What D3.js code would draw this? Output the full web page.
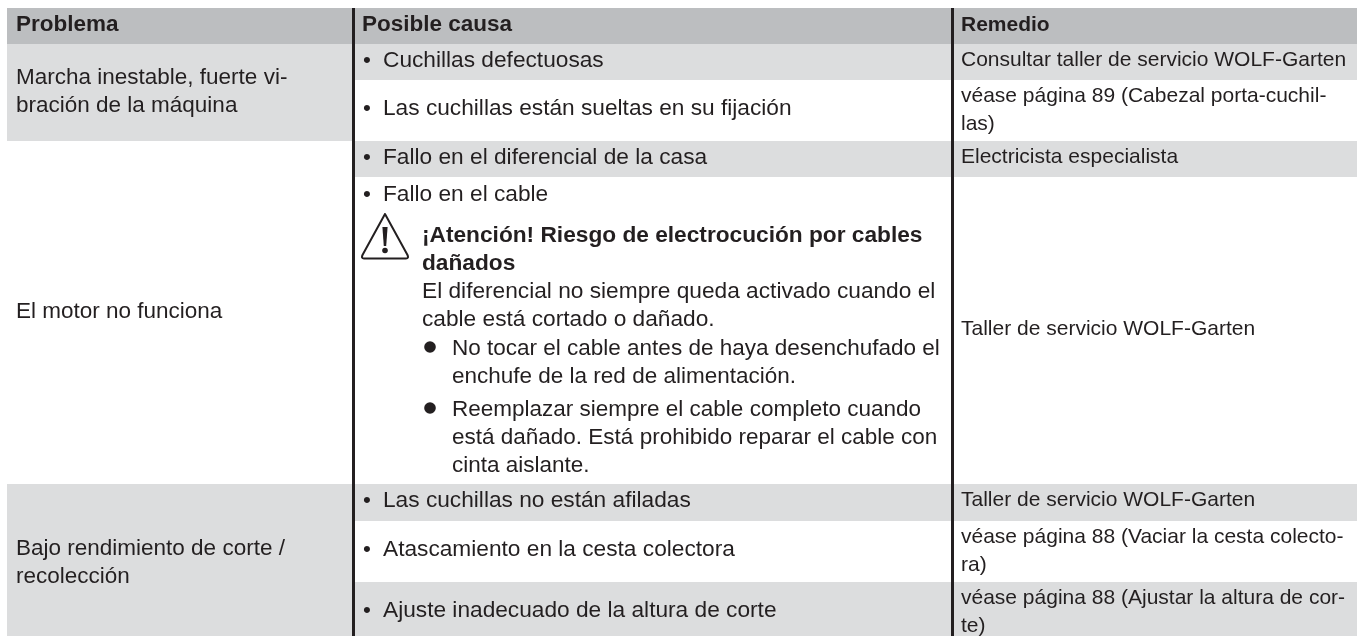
<!DOCTYPE html>
<html>
<head>
<meta charset="utf-8">
<script src="https://cdn.jsdelivr.net/npm/d3@7"></script>
<style>
  html, body { margin: 0; padding: 0; background: #fff; overflow: hidden; }
  text { font-family: "Liberation Sans", Arial, sans-serif; font-size: 22.5px; fill: #231f20; }
  .head { font-weight: bold; }
  .small { font-size: 21px; }
  .mid { font-size: 22.7px; }
</style>
</head>
<body>
<div id="datavis"></div>
<script>
// table content
const headers = ["Problema", "Posible causa", "Remedio"]
const problems = [
  ["Marcha inestable, fuerte vi-", "bración de la máquina"],
  ["El motor no funciona"],
  ["Bajo rendimiento de corte /", "recolección"]
]
const causes = [
  "Cuchillas defectuosas",
  "Las cuchillas están sueltas en su fijación",
  "Fallo en el diferencial de la casa",
  "Fallo en el cable",
  "Las cuchillas no están afiladas",
  "Atascamiento en la cesta colectora",
  "Ajuste inadecuado de la altura de corte"
]
const remedies = [
  ["Consultar taller de servicio WOLF-Garten"],
  ["véase página 89 (Cabezal porta-cuchil-", "las)"],
  ["Electricista especialista"],
  ["Taller de servicio WOLF-Garten"],
  ["Taller de servicio WOLF-Garten"],
  ["véase página 88 (Vaciar la cesta colecto-", "ra)"],
  ["véase página 88 (Ajustar la altura de cor-", "te)"]
]
const warningTitle = ["¡Atención! Riesgo de electrocución por cables", "dañados"]
const warningText = ["El diferencial no siempre queda activado cuando el", "cable está cortado o dañado."]
const warningSteps = [
  ["No tocar el cable antes de haya desenchufado el", "enchufe de la red de alimentación."],
  ["Reemplazar siempre el cable completo cuando", "está dañado. Está prohibido reparar el cable con", "cinta aislante."]
]
const rowHeights = [36, 61, 36, 307, 37, 61, 54]
const colWidths = [346, 599, 405]
const problemRanges = [[0, 2], [2, 4], [4, 7]]

const W = 1357, H = 636
const grey = "#dcddde", headGrey = "#bcbec0", ink = "#231f20"

const svg = d3.select("#datavis").append("svg")
  .attr("width", W).attr("height", H)
  .style("display", "block")

const rowEdges = [0, ...d3.cumsum(rowHeights)]
const colEdges = [0, ...d3.cumsum(colWidths)]
const y = d3.scaleLinear().domain([0, d3.sum(rowHeights)]).range([44, 44 + d3.sum(rowHeights)])
const x = d3.scaleLinear().domain([0, d3.sum(colWidths)]).range([7, 7 + d3.sum(colWidths)])

// header band
svg.append("rect").attr("x", x(0)).attr("y", 8)
  .attr("width", W - x(0)).attr("height", y(0) - 8).attr("fill", headGrey)

// problem column shading: first and last group
svg.append("g").selectAll("rect")
  .data(problemRanges.filter((d, i) => i !== 1))
  .enter().append("rect")
    .attr("x", x(colEdges[0]))
    .attr("y", d => y(rowEdges[d[0]]))
    .attr("width", x(colEdges[1]) - x(colEdges[0]))
    .attr("height", d => y(rowEdges[d[1]]) - y(rowEdges[d[0]]))
    .attr("fill", grey)

// cause + remedy shading, striped rows
svg.append("g").selectAll("rect")
  .data(d3.range(rowHeights.length).filter(i => i % 2 === 0))
  .enter().append("rect")
    .attr("x", x(colEdges[1]))
    .attr("y", i => y(rowEdges[i]))
    .attr("width", W - x(colEdges[1]))
    .attr("height", i => y(rowEdges[i + 1]) - y(rowEdges[i]))
    .attr("fill", grey)

// column rules
svg.append("g").selectAll("rect")
  .data([1, 2])
  .enter().append("rect")
    .attr("x", c => x(colEdges[c]) - 1)
    .attr("y", 8)
    .attr("width", 3)
    .attr("height", H - 8)
    .attr("fill", ink)

function lines(g, arr, px, py, lh, cls) {
  arr.forEach((t, i) => {
    g.append("text").attr("x", px).attr("y", py + i * lh).attr("class", cls || null).text(t)
  })
}

const g = svg.append("g").style("filter", "blur(0.3px)")

// headers
headers.forEach((h, i) => {
  g.append("text").attr("class", i === 2 ? "head small" : "head")
    .attr("x", x(colEdges[i]) + 9).attr("y", 30.5).text(h)
})

// problems, centred in their span
problems.forEach((p, i) => {
  const mid = (y(rowEdges[problemRanges[i][0]]) + y(rowEdges[problemRanges[i][1]])) / 2
  lines(g, p, x(0) + 9, mid + (i === 2 ? 8.5 : 5) - (p.length - 1) * 14, 28)
})

// causes
const causeX = x(colEdges[1]) + 7
causes.forEach((c, i) => {
  const top = y(rowEdges[i])
  const base = rowHeights[i] < 40 ? top + 22.5 : (i === 3 ? top + 23.5 : top + 35)
  g.append("text").attr("x", causeX + 3).attr("y", base).text("•")
  g.append("text").attr("class", "mid").attr("x", causeX + 23).attr("y", base).text(c)
})

// remedies
remedies.forEach((r, i) => {
  const mid = (y(rowEdges[i]) + y(rowEdges[i + 1])) / 2
  const base = i === 3 ? mid + 4.5 : y(rowEdges[i]) + 22
  lines(g, r, x(colEdges[2]) + 9, base, 27.6, "small")
})

// warning block
const warnX = 422
let by = 242
lines(g, warningTitle, warnX, by, 28, "head mid")
by += warningTitle.length * 28
lines(g, warningText, warnX, by, 28, "mid")
by += warningText.length * 28 + 1
warningSteps.forEach(s => {
  g.append("circle").attr("cx", warnX + 8).attr("cy", by - 8).attr("r", 5.8).attr("fill", ink)
  lines(g, s, warnX + 30, by, 28)
  by += s.length * 28 + 5
})

// warning triangle
const icon = svg.append("g").attr("transform", "translate(385,214)")
icon.append("path")
  .attr("d", "M0,0 L-22.5,41 Q-24,44.5 -21,44.5 L21,44.5 Q24,44.5 22.5,41 Z")
  .attr("fill", "none").attr("stroke", ink).attr("stroke-width", 2).attr("stroke-linejoin", "round")
icon.append("path").attr("d", "M-2.6,13 L2.6,13 L1.2,32 L-1.2,32 Z").attr("fill", ink)
icon.append("circle").attr("cy", 36.5).attr("r", 2.8).attr("fill", ink)
</script>
</body>
</html>
